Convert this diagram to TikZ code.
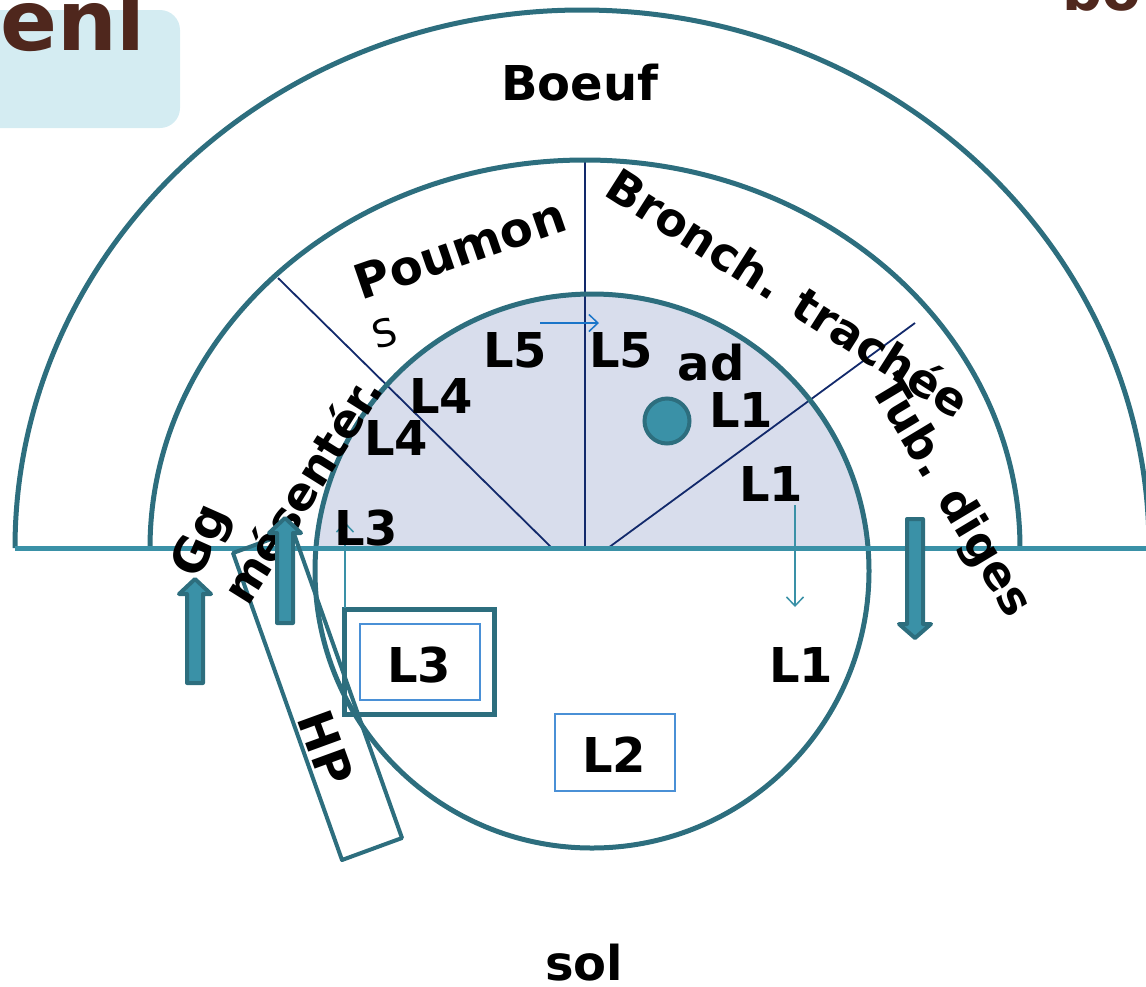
\documentclass[tikz,border=0pt]{standalone}
\usepackage{fontspec}
\setmainfont{DejaVu Sans}
\usetikzlibrary{arrows.meta}
\definecolor{tealdk}{HTML}{2D6E7E}
\definecolor{teallt}{HTML}{3A91A7}
\definecolor{navy}{HTML}{12296B}
\definecolor{lav}{HTML}{D8DDEC}
\definecolor{thinblue}{HTML}{1A75C9}
\definecolor{boxblue}{HTML}{4A90D6}
\definecolor{brownt}{HTML}{4F271D}
\definecolor{paleblue}{HTML}{D4ECF2}
\tikzset{
  lbl/.style={font=\fontsize{48}{58}\selectfont\bfseries, inner sep=0pt, anchor=base, text=black},
  rlbl/.style={font=\fontsize{46}{56}\selectfont\bfseries, inner sep=0pt, anchor=center, text=black},
  ring/.style={draw=tealdk, line width=5pt},
  divider/.style={draw=navy, line width=1.8pt},
  blockarrow/.style={draw=tealdk, fill=teallt, line width=4pt, line join=round},
  thinarrow/.style={line width=1.5pt, -{Straight Barb[length=9pt,width=17pt,line width=1.5pt]}},
  thinbox/.style={draw=boxblue, line width=1.2pt, inner sep=0pt},
}
\begin{document}
\begin{tikzpicture}[x=1pt,y=-1pt]
\useasboundingbox (0,0) rectangle (1146,986);
% top-left pale box and title fragments
\fill[paleblue, rounded corners=20pt] (-30,10) rectangle (180,128);
\node[font=\fontsize{84}{90}\selectfont\bfseries, text=brownt, inner sep=0pt, anchor=base east] (title) at (146,50) {enl};
\node[font=\fontsize{56}{60}\selectfont\bfseries, text=brownt, inner sep=0pt, anchor=base west] (title2) at (1062,10) {bo};
% lavender segment
\begin{scope}
\clip (0,0) rectangle (1146,548);
\fill[lav] (592,571) circle[radius=277];
\end{scope}
% dividers
\coordinate (d1a) at (278,278); \coordinate (d1b) at (552,548);
\coordinate (d2a) at (585,160); \coordinate (d2b) at (585,548);
\coordinate (d3a) at (915,323); \coordinate (d3b) at (608,548);
\draw[divider] (d1a) -- (d1b);
\draw[divider] (d2a) -- (d2b);
\draw[divider] (d3a) -- (d3b);
% rings
\draw[ring] (15,548) arc[start angle=180, end angle=360, x radius=567, y radius=538];
\draw[ring] (150,548) arc[start angle=180, end angle=360, x radius=435, y radius=388];
\draw[ring] (592,571) circle[radius=277];
% ground line
\coordinate (g1) at (15,548); \coordinate (g2) at (1146,548);
\draw[teallt, line width=5pt] (g1) -- (g2);
% HP rectangle
\draw[tealdk, line width=4pt, line join=round] (233,553) -- (293,531) -- (402,838) -- (342,860) -- cycle;
% boxes
\node[draw=tealdk, line width=5pt, minimum width=150pt, minimum height=105pt, inner sep=0pt] (box3) at (419,661.5) {};
\node[thinbox, minimum width=120pt, minimum height=76pt] (box3i) at (420,662) {};
\node[thinbox, minimum width=120pt, minimum height=77pt] (box2) at (615,752.5) {};
% thin arrows
\coordinate (a1s) at (540,323); \coordinate (a1e) at (599,323);
\draw[thinarrow, thinblue] (a1s) -- (a1e);
\coordinate (a2s) at (795,505); \coordinate (a2e) at (795,607);
\draw[thinarrow, teallt] (a2s) -- (a2e);
\coordinate (a3s) at (345,608); \coordinate (a3e) at (345,522);
\draw[thinarrow, teallt] (a3s) -- (a3e);
% dot
\node[circle, draw=tealdk, fill=teallt, line width=4pt, minimum size=45pt, inner sep=0pt] (dot) at (667,421) {};
% labels
\node[lbl] (boeuf) at (580,100) {Boeuf};
\node[rlbl, font=\fontsize{48}{58}\selectfont\bfseries, rotate=19] (poumon) at (460,249) {Poumon};
\node[rlbl, rotate=-32.5] (bronch) at (789,292) {Bronch. trachée};
\node[rlbl, rotate=-59] (tub) at (950,497) {Tub. diges};
\node[rlbl, rotate=58] (mes) at (301,489) {mésentér.};
\node[rlbl, font=\fontsize{48}{58}\selectfont\bfseries, rotate=66] (gg) at (203,542) {Gg};
\node[rlbl, font=\fontsize{48}{58}\selectfont\bfseries, rotate=-70] (hp) at (326,748) {HP};
\node[font=\fontsize{38}{40}\selectfont, inner sep=0pt, rotate=15] (s) at (385,333) {S};
\node[lbl] (l5a) at (515,367) {L5};
\node[lbl] (l5b) at (621,367) {L5};
\node[lbl] (ad) at (711,380) {ad};
\node[lbl] (l1a) at (741,427) {L1};
\node[lbl] (l1b) at (771,501) {L1};
\node[lbl] (l1c) at (801,682) {L1};
\node[lbl] (l4a) at (441,413) {L4};
\node[lbl] (l4b) at (396,455) {L4};
\node[lbl] (l3a) at (366,545) {L3};
\node[lbl] (l3b) at (419,682) {L3};
\node[lbl] (l2) at (614,772) {L2};
\node[lbl] (sol) at (584,980) {sol};
% block arrows
\draw[blockarrow] (187,683) -- (187,594) -- (179,594) -- (195,579) -- (211,594) -- (203,594) -- (203,683) -- cycle;
\draw[blockarrow] (277,623) -- (277,533) -- (269,533) -- (285,518) -- (301,533) -- (293,533) -- (293,623) -- cycle;
\draw[blockarrow] (907,519) -- (907,624) -- (899,624) -- (915,638) -- (931,624) -- (923,624) -- (923,519) -- cycle;
\end{tikzpicture}
\end{document}
